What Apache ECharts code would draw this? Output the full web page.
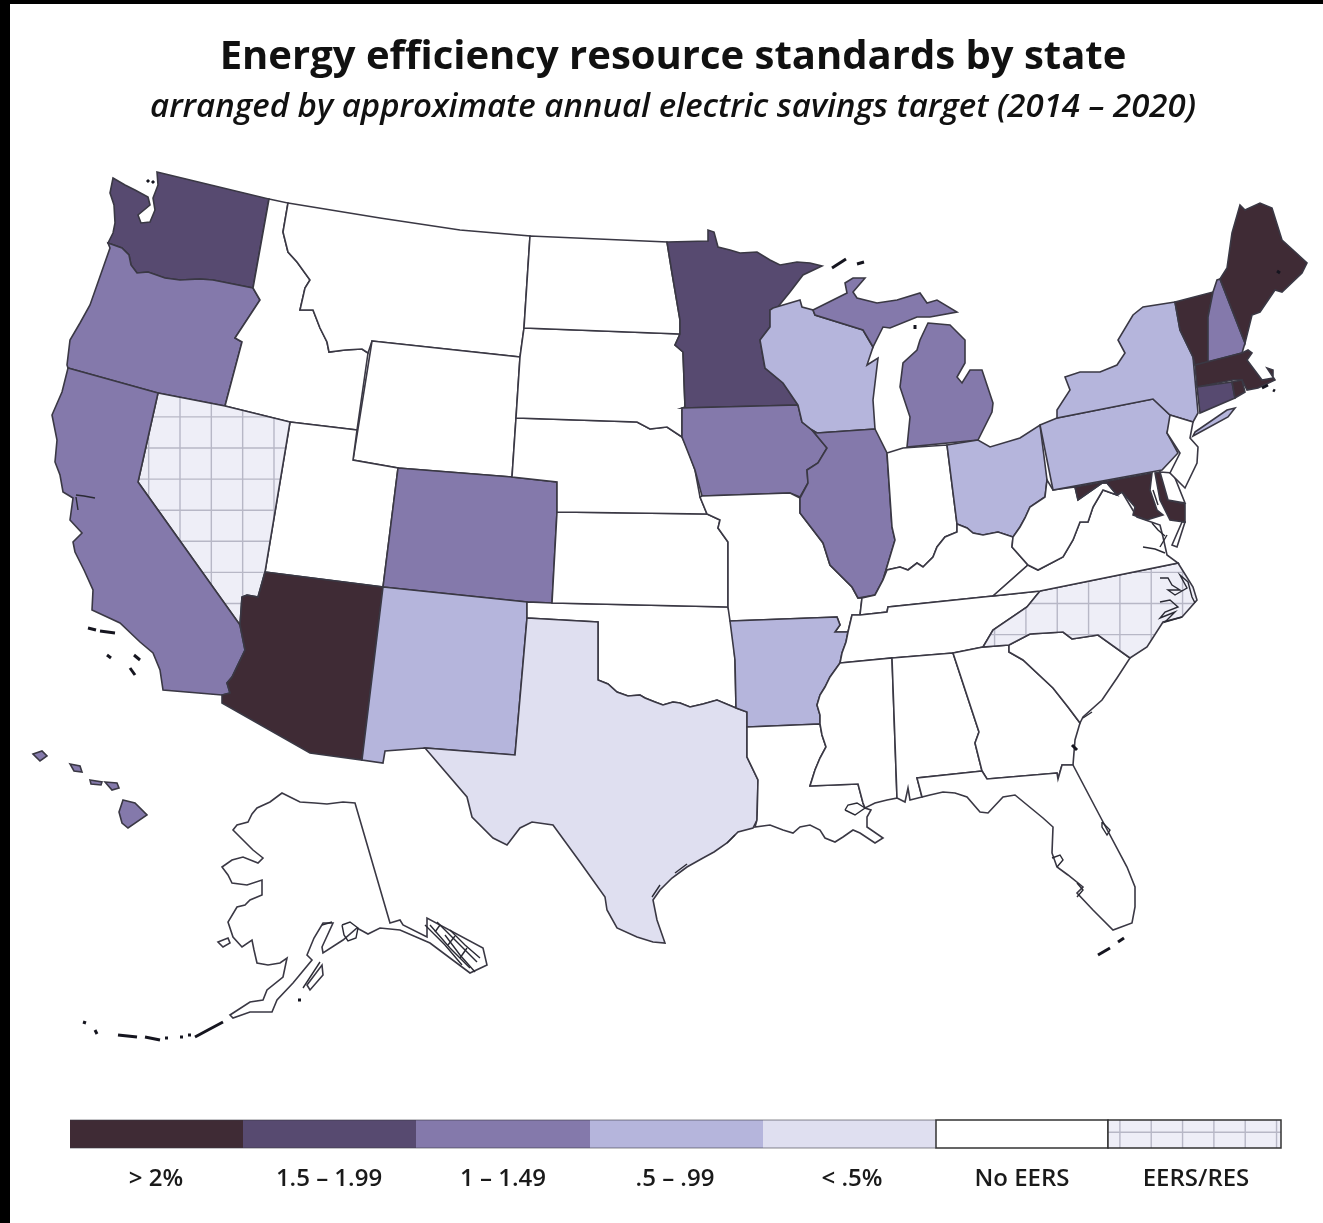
<!DOCTYPE html>
<html>
<head>
<meta charset="utf-8">
<style>html,body{margin:0;padding:0;background:#fff}#chart{width:1323px;height:1223px}</style>
<script src="https://cdn.jsdelivr.net/npm/echarts@6/dist/echarts.min.js"></script>
</head>
<body>
<div id="chart"></div>
<script>
// savings tiers
var tierOver2 = ['AZ','MD','VT','MA','RI','ME'];
var tier15 = ['WA','MN','CT'];
var tier1 = ['OR','CA','CO','IA','IL','MI','NH','HI'];
var tier05 = ['NY','PA','OH','WI','NM','AR'];
var tierUnder05 = ['TX'];
var tierEersRes = ['NV','NC'];

var legendLabels = ['> 2%','1.5 – 1.99','1 – 1.49','.5 – .99','< .5%','No EERS','EERS/RES'];
var legendColors = ['#3f2b35','#574a70','#8479ab','#b5b5dc','#dfdff0','#ffffff','hatch'];

// outlines as x,y pairs
var shapes = {
 WA:[[113,178,125,185,135,190,148,197,150,205,138,215,141,223,150,222,155,210,153,198,158,185,157,172,269,199,253,288,213,280,200,279,180,280,165,278,148,272,137,273,131,265,129,255,122,248,108,243,113,233,115,223,114,205,110,193]],
 OR:[[108,243,122,248,129,255,131,265,137,273,148,272,165,278,180,280,200,279,213,280,253,288,260,300,235,338,242,342,225,406,158,393,68,368,67,365,70,340,80,323,90,305,110,248]],
 ID:[[269,199,288,203,283,232,288,252,297,262,310,280,305,288,300,310,313,310,320,328,327,342,329,352,345,350,362,349,368,353,357,430,290,422,225,406,242,342,235,338,260,300,253,288]],
 MT:[[288,203,380,218,460,230,530,236,524,328,520,357,372,341,368,353,362,349,345,350,329,352,327,342,320,328,313,310,300,310,305,288,310,280,297,262,288,252,283,232]],
 WY:[[372,341,520,357,516,418,512,477,398,468,353,460]],
 UT:[[290,422,357,430,353,460,398,468,383,587,265,572]],
 NV:[[158,393,225,406,290,422,265,572,258,597,247,595,242,597,240,625,138,482]],
 CA:[[68,368,158,393,138,482,240,625,245,650,232,677,227,683,230,693,222,695,163,690,160,670,153,653,140,642,120,623,92,610,93,590,84,570,75,552,73,542,82,533,70,520,73,498,63,492,60,475,55,462,57,440,52,415,62,392]],
 AZ:[[265,572,383,587,362,760,310,753,222,703,222,695,230,693,227,683,232,677,245,650,240,625,242,597,247,595,258,597]],
 CO:[[398,468,512,477,557,482,557,512,552,603,527,602,383,587]],
 NM:[[383,587,527,602,527,618,515,755,425,748,385,751,383,763,362,760]],
 OK:[[527,602,552,603,728,607,732,622,735,660,736,708,717,700,703,704,690,707,680,703,673,702,663,705,655,702,645,698,640,695,628,696,617,692,608,684,598,680,598,622,527,618]],
 TX:[[527,618,598,622,598,680,608,684,617,692,628,696,640,695,645,698,655,702,663,705,673,702,680,703,690,707,703,704,717,700,736,708,747,712,747,757,758,780,757,820,753,828,738,832,727,843,714,852,703,858,687,867,672,878,660,890,653,900,657,920,665,943,653,942,637,937,617,928,607,910,605,897,580,862,553,825,532,822,520,828,507,845,493,838,472,817,467,797,425,748,515,755]],
 KS:[[557,512,707,514,720,520,718,528,728,542,728,607,552,603]],
 NE:[[516,418,637,422,650,429,667,427,682,437,688,450,695,470,700,497,707,514,557,512,557,482,512,477]],
 SD:[[524,328,680,334,675,345,683,352,685,407,682,410,682,437,667,427,650,429,637,422,516,418,520,357]],
 ND:[[530,236,667,242,672,273,680,320,680,334,524,328]],
 MN:[[667,242,708,241,708,230,714,232,718,247,730,250,740,253,757,252,770,260,780,265,797,262,810,263,822,266,803,275,790,292,777,308,770,310,770,327,760,340,765,368,783,383,798,405,682,408,685,407,683,352,675,345,680,334,680,320,672,273]],
 IA:[[682,408,798,405,802,422,812,430,827,448,818,463,807,470,808,483,800,497,790,493,702,496,695,470,682,437,682,410]],
 MO:[[702,496,790,493,800,498,800,513,823,543,830,565,852,587,858,598,862,598,860,615,852,615,848,632,835,632,840,625,837,617,730,621,728,607,728,542,718,528,720,520,707,514,700,497]],
 AR:[[730,621,837,617,840,625,835,632,848,632,846,642,842,653,840,663,835,670,830,677,825,687,820,695,817,705,820,715,820,724,747,727,747,712,736,708,735,660]],
 LA:[[747,727,820,724,822,735,826,747,820,758,815,770,810,786,858,784,863,803,865,808,871,810,867,817,867,827,883,838,875,843,860,833,853,830,843,837,835,842,825,838,820,830,810,825,800,827,793,833,783,830,770,825,755,827,757,820,758,780,747,757]],
 WI:[[773,308,800,300,802,307,813,310,815,315,863,330,873,347,867,365,878,358,873,400,875,429,817,433,812,430,802,422,798,405,783,383,765,368,760,340,770,327,770,310]],
 MI:[[813,310,847,293,845,283,853,278,865,278,853,292,857,298,877,303,897,300,920,293,927,303,937,300,957,312,930,317,917,317,890,328,883,327,873,347,863,330,815,315],
     [928,323,950,325,965,340,965,363,957,377,962,383,970,370,982,370,993,403,992,412,978,440,907,447,910,417,900,387,903,363,917,350,920,340]],
 IL:[[817,433,875,429,887,453,892,527,895,540,883,580,875,595,858,598,852,587,830,565,823,543,800,513,800,498,808,483,807,470,818,463,827,448,812,430]],
 IN:[[887,453,903,448,947,445,957,524,957,532,945,537,937,547,933,557,923,567,917,563,908,570,900,567,887,570,883,580,895,540,892,527]],
 OH:[[947,445,978,440,990,447,1020,438,1040,425,1047,480,1045,497,1030,507,1025,518,1020,527,1013,537,998,532,983,535,973,533,967,528,957,524]],
 KY:[[957,524,967,528,973,533,983,535,998,532,1013,537,1012,547,1028,565,993,596,888,607,887,612,860,615,862,598,875,595,883,580,887,570,900,567,908,570,917,563,923,567,933,557,937,547,945,537,957,532]],
 TN:[[860,615,887,612,888,607,993,596,1040,591,1027,607,993,630,983,647,953,653,892,658,840,663,842,653,846,642,848,632,852,615]],
 MS:[[840,663,892,658,897,798,887,800,875,803,865,808,863,803,858,784,810,786,815,770,820,758,826,747,822,735,820,724,820,715,817,705,820,695,825,687,830,677,835,670]],
 AL:[[892,658,953,653,979,732,975,743,980,763,982,771,917,778,922,797,910,800,908,788,905,802,897,798]],
 GA:[[953,653,983,647,1009,645,1009,652,1023,660,1053,688,1068,707,1080,723,1075,740,1073,765,1062,765,1058,779,1057,773,987,779,982,771,980,763,975,743,979,732]],
 SC:[[1009,645,1030,634,1063,632,1072,639,1098,635,1130,658,1117,678,1102,700,1083,717,1080,723,1068,707,1053,688,1023,660,1009,652]],
 NC:[[1178,563,1040,591,1027,607,993,630,983,647,1009,645,1030,634,1063,632,1072,639,1098,635,1130,658,1147,647,1163,622,1182,617,1197,600,1193,587]],
 FL:[[982,771,987,779,1057,773,1058,779,1062,765,1073,765,1102,820,1127,867,1135,887,1135,907,1132,923,1113,930,1093,910,1077,893,1083,887,1068,875,1057,867,1052,853,1053,827,1043,818,1015,795,1003,797,988,813,980,812,967,797,955,793,943,792,930,795,922,797,917,778]],
 VA:[[993,596,1028,565,1038,570,1063,557,1073,540,1080,522,1088,522,1093,507,1103,490,1117,495,1122,492,1137,517,1160,525,1163,537,1167,555,1178,563,1040,591],
     [1182,522,1185,522,1177,547,1172,545]],
 WV:[[1045,497,1047,480,1053,490,1075,487,1078,500,1102,483,1107,483,1117,495,1103,490,1093,507,1088,522,1080,522,1073,540,1063,557,1038,570,1028,565,1012,547,1013,537,1020,527,1025,518,1030,507]],
 MD:[[1075,487,1152,473,1150,490,1157,510,1163,515,1147,520,1133,515,1135,507,1122,492,1117,495,1107,483,1102,483,1078,500],
     [1155,473,1160,472,1168,500,1185,504,1185,522,1170,520,1160,500]],
 DE:[[1160,472,1173,473,1185,503,1168,500]],
 PA:[[1040,425,1057,418,1153,399,1170,415,1172,415,1167,433,1178,453,1162,470,1053,490]],
 NY:[[1175,302,1143,307,1133,315,1118,340,1125,353,1117,365,1100,372,1080,372,1065,377,1070,390,1057,410,1057,418,1153,399,1170,415,1193,422,1198,413,1193,357,1180,330],
     [1195,432,1227,410,1235,408,1228,417,1193,436]],
 NJ:[[1170,415,1193,422,1190,438,1198,447,1197,463,1185,488,1170,473,1180,453,1167,433]],
 VT:[[1175,302,1213,292,1208,317,1208,362,1195,365,1193,357,1180,330]],
 NH:[[1213,292,1217,280,1220,279,1245,343,1242,353,1208,362,1208,317]],
 ME:[[1220,279,1227,268,1232,233,1240,205,1245,210,1260,203,1272,208,1282,240,1293,250,1307,263,1302,273,1282,292,1275,290,1260,312,1252,315,1245,343]],
 MA:[[1195,365,1242,353,1248,350,1252,353,1247,360,1262,380,1273,378,1273,370,1267,368,1275,380,1258,388,1247,390,1242,380,1233,380,1197,387]],
 CT:[[1197,387,1232,382,1235,398,1200,413]],
 RI:[[1232,382,1242,380,1245,392,1235,398]],
 HI:[[123,800,135,803,147,815,128,828,122,823,119,812],[105,782,117,783,119,788,112,790],[90,780,102,782,101,785,91,784],[70,764,80,766,82,772,74,771],[33,754,42,751,47,756,40,761]],
 AK:[[282,793,290,797,300,802,315,803,327,804,343,802,355,803,390,923,400,920,403,925,427,937,427,918,483,948,487,965,470,973,430,943,400,930,380,928,368,934,357,928,343,940,323,953,322,947,333,923,323,923,314,938,307,955,312,960,293,983,277,1000,272,1012,250,1012,233,1018,230,1015,250,1002,263,1000,267,990,283,977,287,958,280,963,268,965,257,963,254,950,252,940,242,947,233,937,228,922,237,907,245,905,250,900,262,895,262,880,247,885,232,883,228,875,222,867,232,860,243,857,258,863,263,858,253,850,243,840,233,830,237,825,248,822,252,814,257,808,270,802],
     [307,985,322,965,323,975,310,990],[218,942,228,938,230,943,223,947]]
};

// coast detail, drawn as thin strokes
var details = [
 [76,495,84,496,95,498],[76,497,78,510],[845,810,848,805,857,803,865,808,855,815,845,810],
 [1152,523,1158,530,1165,536],[1143,547,1155,549,1165,553],[1167,535,1160,547],[1153,490,1158,505],
 [1160,578,1168,578,1172,585,1180,590,1168,590,1175,595,1187,588,1180,575,1188,582,1192,597,1195,603],
 [1160,602,1170,600,1178,607,1165,612,1160,618,1175,612,1165,622,1182,617],
 [1102,822,1110,830,1107,835,1102,827,1102,822],[1052,858,1060,855,1063,860,1057,867],[1077,883,1083,890,1077,897],
 [342,925,350,922,358,928,356,938,348,941,344,935,342,925],
 [322,925,332,922],[303,988,320,962],
 [430,925,450,948,470,968],[437,922,457,942,477,962],[445,935,460,955,475,972],[425,925,445,945,462,965],[450,930,465,945,480,958],
 [435,932,440,925],[448,945,455,936],[460,958,467,948],
 [727,843,735,835],[652,897,660,885],[675,873,687,864],[1083,718,1092,712]
];
// small islands, heavier strokes
var islets = [
 [147,180,149,182],[152,181,154,183],[88,628,96,630],[100,631,115,633],[107,655,111,658],[134,655,140,660],[130,668,135,675],
 [832,268,846,259],[857,264,864,262],[915,325,915,329],[1277,271,1280,273],[1262,388,1268,385],[1273,390,1275,391],
 [1098,955,1110,948],[1118,942,1124,938],[1072,745,1077,750],
 [195,1037,208,1030,223,1022],[145,1037,160,1040],[118,1035,137,1037],[165,1038,168,1038],[180,1037,183,1037],[188,1035,191,1035],[83,1022,86,1023],[95,1030,97,1034],[298,1000,301,1000]
];

var fillOf = {};
function setTier(names, fill){ names.forEach(function(n){ fillOf[n] = fill; }); }

// grid used by the EERS/RES hatch, lined up over the whole page
var hatch = document.createElement('canvas');
hatch.width = 1323; hatch.height = 1223;
var hc = hatch.getContext('2d');
hc.fillStyle = '#eeeef7'; hc.fillRect(0,0,1323,1223);
hc.strokeStyle = '#b7b7c6'; hc.lineWidth = 1.4;
for (var gx = 180 - 31.33*5; gx < 1323; gx += 31.33) { hc.beginPath(); hc.moveTo(gx,0); hc.lineTo(gx,1223); hc.stroke(); }
for (var gy = 448 - 31.1*14; gy < 1223; gy += 31.1) { hc.beginPath(); hc.moveTo(0,gy); hc.lineTo(1323,gy); hc.stroke(); }
var hatchFill = { image: hatch, repeat: 'repeat' };

setTier(tierOver2, legendColors[0]);
setTier(tier15, legendColors[1]);
setTier(tier1, legendColors[2]);
setTier(tier05, legendColors[3]);
setTier(tierUnder05, legendColors[4]);
setTier(tierEersRes, hatchFill);

function ring(flat){
  var out = [];
  for (var i = 0; i < flat.length; i += 2) out.push([flat[i], -flat[i+1]]);
  return out;
}

var features = Object.keys(shapes).map(function(code){
  return {
    type: 'Feature',
    properties: { name: code },
    geometry: {
      type: 'MultiPolygon',
      coordinates: shapes[code].map(function(r){
        var pts = ring(r);
        pts.push(pts[0]);
        return [pts];
      })
    }
  };
});
echarts.registerMap('usa', { type: 'FeatureCollection', features: features });

var regions = Object.keys(shapes).map(function(code){
  return { name: code, itemStyle: { areaColor: fillOf[code] || '#ffffff' } };
});

var legendX = [70,243,416,590,763,936,1108,1281];
var legendCenters = [156,329,503,675,852,1022,1196];
var graphics = [
  { type:'rect', shape:{x:0,y:0,width:1323,height:4}, style:{fill:'#000'} },
  { type:'rect', shape:{x:0,y:0,width:10,height:1223}, style:{fill:'#000'} }
];
legendColors.forEach(function(c, i){
  graphics.push({ type:'rect', shape:{x:legendX[i],y:1120,width:legendX[i+1]-legendX[i],height:28},
    style:{ fill: c === 'hatch' ? hatchFill : c, stroke: i > 4 ? '#333' : null, lineWidth: 1.5 } });
  graphics.push({ type:'text', x:legendCenters[i], y:1179,
    style:{ text:legendLabels[i], fill:'#1a1a1a', font:'600 24px "Open Sans"', align:'center', verticalAlign:'middle' } });
});
graphics.push({ type:'line', shape:{x1:70,y1:1120,x2:936,y2:1120}, style:{stroke:'#3a3844',lineWidth:1,opacity:.6} });
graphics.push({ type:'line', shape:{x1:70,y1:1148,x2:936,y2:1148}, style:{stroke:'#3a3844',lineWidth:1,opacity:.6} });

var chart = echarts.init(document.getElementById('chart'));
chart.setOption({
  animation: false,
  backgroundColor: '#fff',
  title: [
    { text:'Energy efficiency resource standards by state', left:668, top:33, textAlign:'center',
      textStyle:{ fontFamily:'Open Sans', fontWeight:700, fontSize:40, color:'#111' } },
    { text:'arranged by approximate annual electric savings target (2014 – 2020)', left:668, top:86, textAlign:'center',
      textStyle:{ fontFamily:'Open Sans', fontStyle:'italic', fontWeight:600, fontSize:33, color:'#111' } }
  ],
  geo: {
    map: 'usa',
    silent: true,
    roam: false,
    aspectScale: 1,
    left: 0, top: 0, width: 1323, height: 1223,
    boundingCoords: [[0,0],[1323,-1223]],
    label: { show:false },
    itemStyle: { areaColor:'#fff', borderColor:'#3a3844', borderWidth:1.6 },
    regions: regions
  },
  series: [{
    type: 'lines',
    coordinateSystem: 'geo',
    polyline: true,
    silent: true,
    lineStyle: { color:'#2a2a34', width:1.4, opacity:1 },
    data: details.map(function(d){ return { coords: ring(d) }; })
  }, {
    type: 'lines',
    coordinateSystem: 'geo',
    polyline: true,
    silent: true,
    lineStyle: { color:'#15151f', width:3, opacity:1 },
    data: islets.map(function(d){ return { coords: ring(d) }; })
  }],
  graphic: graphics
});
</script>
</body>
</html>
